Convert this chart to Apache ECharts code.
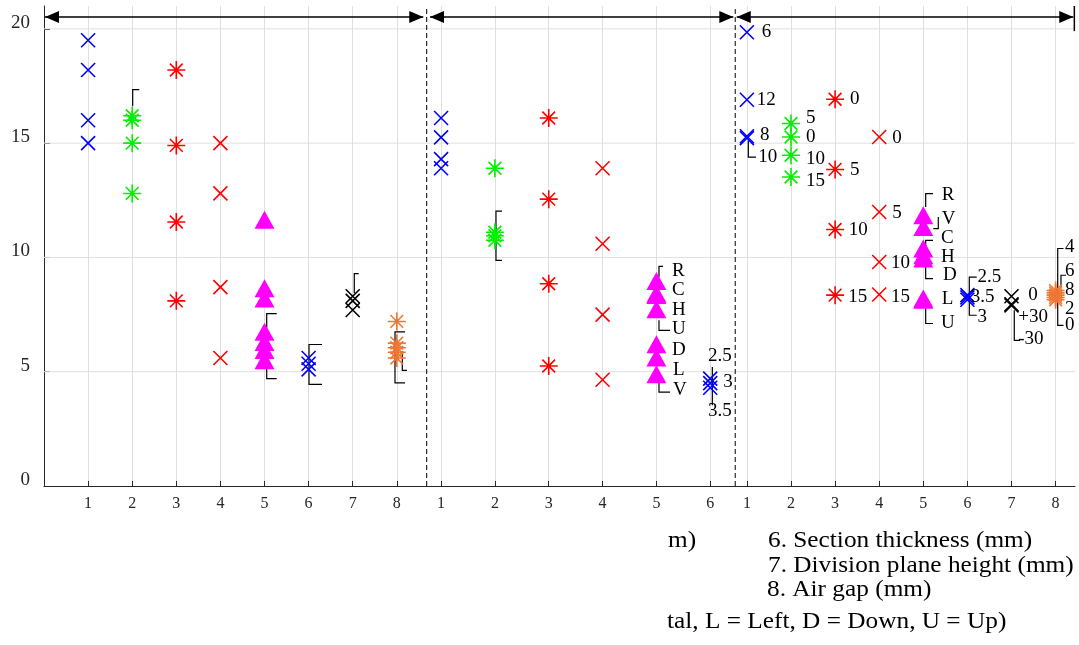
<!DOCTYPE html>
<html>
<head>
<meta charset="utf-8">
<title>Parameter sweep</title>
<script src="https://cdn.jsdelivr.net/npm/echarts@6/dist/echarts.min.js"></script>
<style>
  html, body { margin: 0; padding: 0; background: #fff; }
  #chart { width: 1079px; height: 645px; }
</style>
</head>
<body>
<div id="chart"></div>
<script>
// ---- data ----
const yTicks = [0, 5, 10, 15, 20]
const xTicksLeft = [1, 2, 3, 4, 5, 6, 7, 8]
const xTicksMid = [1, 2, 3, 4, 5, 6]
const xTicksRight = [1, 2, 3, 4, 5, 6, 7, 8]

// one small array per parameter position
const leftValues = [
  [19.5, 18.2, 16.0, 15.0],
  [16.2, 16.0, 15.0, 12.8],
  [18.2, 14.9, 11.55, 8.1],
  [15.0, 12.8, 8.7, 5.6],
  [11.65, 8.65, 8.2, 6.75, 6.3, 5.95, 5.5],
  [5.6, 5.35, 5.1],
  [8.3, 8.1, 7.7],
  [7.2, 6.25, 6.05, 5.85, 5.6],
]
const midValues = [
  [16.1, 15.25, 14.3, 13.9],
  [13.9, 11.1, 10.95, 10.75],
  [16.1, 12.55, 8.85, 5.25],
  [13.9, 10.6, 7.5, 4.65],
  [8.97, 8.42, 8.36, 7.73, 6.2, 5.62, 4.89],
  [4.7, 4.5, 4.3],
]
const rightValues = [
  [19.85, 16.9, 15.3, 15.22],
  [15.86, 15.27, 14.47, 13.52],
  [16.92, 13.85, 11.22, 8.35],
  [15.27, 11.99, 9.8, 8.38],
  [11.84, 11.33, 10.39, 10.1, 9.95, 8.2, 8.15],
  [8.35, 8.25, 8.15],
  [8.3, 7.95, 7.9],
  [8.55, 8.45, 8.35, 8.25, 8.15],
]

// ---- annotations (x, y in axis units, text) ----
const midNotes = [
  [5.29, 9.41, 'R'], [5.29, 8.59, 'C'], [5.29, 7.72, 'H'], [5.29, 6.86, 'U'],
  [5.29, 5.94, 'D'], [5.31, 5.09, 'L'], [5.31, 4.19, 'V'],
  [6.18, 5.70, '2.5', 'center'], [6.24, 4.55, '3'], [6.18, 3.29, '3.5', 'center'],
]
const rightNotes = [
  [1.335, 19.84, '6'], [1.222, 16.90, '12'], [1.297, 15.34, '8'], [1.258, 14.38, '10'],
  [2.34, 16.09, '5'], [2.34, 15.26, '0'], [2.34, 14.32, '10'], [2.34, 13.33, '15'],
  [3.338, 16.92, '0'], [3.338, 13.81, '5'], [3.31, 11.19, '10'], [3.30, 8.27, '15'],
  [4.297, 15.24, '0'], [4.297, 11.96, '5'], [4.267, 9.76, '10'], [4.267, 8.27, '15'],
  [5.417, 12.72, 'R'], [5.417, 11.70, 'V'], [5.40, 10.87, 'C'], [5.40, 10.02, 'H'],
  [5.447, 9.22, 'D'], [5.417, 8.20, 'L'], [5.40, 7.11, 'U'],
  [6.229, 9.14, '2.5'], [6.075, 8.27, '3.5'], [6.229, 7.39, '3'],
  [7.381, 8.34, '0'], [7.154, 7.39, '+30'], [7.154, 6.45, '-30'],
  [8.213, 10.44, '4'], [8.213, 9.42, '6'], [8.213, 8.56, '8'], [8.213, 7.76, '2'], [8.213, 7.03, '0'],
]

// brackets as polylines in axis units
const leftBrackets = [
  [[2.161, 17.34], [2.011, 17.34], [2.011, 16.61]],
  [[5.277, 7.54], [5.05, 7.54], [5.05, 4.70], [5.277, 4.70]],
  [[6.304, 6.19], [6.009, 6.19], [6.009, 4.45], [6.304, 4.45]],
  [[7.136, 9.29], [7.036, 9.29], [7.036, 8.43]],
  [[8.186, 6.74], [7.959, 6.74], [7.959, 4.51], [8.186, 4.51]],
  [[8.125, 5.91], [8.125, 5.06], [8.231, 5.06]],
]
const midBrackets = [
  [[2.132, 12.03], [2.02, 12.03], [2.02, 9.87], [2.132, 9.87]],
  [[5.123, 9.61], [5.048, 9.61], [5.048, 9.14]],
  [[5.048, 7.25], [5.048, 6.81], [5.253, 6.81]],
  [[5.048, 4.55], [5.048, 4.11], [5.253, 4.11]],
  [[6.039, 5.21], [6.039, 3.53]],
]
const rightBrackets = [
  [[1.032, 15.12], [1.032, 14.39], [1.206, 14.39]],
  [[5.22, 12.79], [5.054, 12.79], [5.054, 12.21]],
  [[5.34, 11.77], [5.34, 11.26], [5.227, 11.26]],
  [[5.22, 10.75], [5.054, 10.75], [5.054, 10.46]],
  [[5.054, 9.58], [5.054, 9.07], [5.22, 9.07]],
  [[5.054, 7.77], [5.054, 7.11], [5.22, 7.11]],
  [[6.211, 9.14], [6.043, 9.14], [6.043, 7.47], [6.211, 7.47]],
  [[7.063, 7.69], [7.063, 6.37], [7.193, 6.37]],
  [[8.179, 10.39], [8.048, 10.39], [8.048, 7.03], [8.179, 7.03]],
  [[8.236, 9.22], [8.122, 9.22], [8.122, 8.71]],
]

// ---- styles ----
const serif = '"Liberation Serif", "Times New Roman", serif'
const axisColor = '#262626'
const gridColor = '#dfdfdf'
const cross = 'path://M0,0L10,10M10,0L0,10'
const star = 'path://M5,0L5,10M0,5L10,5M1.46,1.46L8.54,8.54M8.54,1.46L1.46,8.54'
const markerStyle = [
  { symbol: cross, size: 14, color: '#0000ff' },
  { symbol: star, size: 18, color: '#00f000' },
  { symbol: star, size: 18, color: '#ff0000' },
  { symbol: cross, size: 14, color: '#ff0000' },
  { symbol: 'triangle', size: [20, 18], color: '#ff00ff', filled: true },
  { symbol: cross, size: 14, color: '#0000ff' },
  { symbol: cross, size: 14, color: '#000000' },
  { symbol: star, size: 18, color: '#ee7733' },
]

const panels = [
  { left: 44, width: 382, min: 0, max: 8.662, ticks: xTicksLeft, values: leftValues, notes: [], brackets: leftBrackets,
    frame: { arrow: [0.023, 8.60, 20.52], dashes: [], bars: [] } },
  { left: 426, width: 309, min: 0.72, max: 6.46, ticks: xTicksMid, values: midValues, notes: midNotes, brackets: midBrackets,
    frame: { arrow: [0.794, 6.429, 20.52], dashes: [0.733], bars: [] } },
  { left: 735, width: 340, min: 0.73, max: 8.44, ticks: xTicksRight, values: rightValues, notes: rightNotes, brackets: rightBrackets,
    frame: { arrow: [0.769, 8.401, 20.52], dashes: [0.735], bars: [[8.425, 19.9, 21]] } },
]

function arrowHead(tip, dir) {
  return {
    type: 'polygon',
    shape: { points: [[tip[0], tip[1]], [tip[0] - dir * 14, tip[1] - 6], [tip[0] - dir * 14, tip[1] + 6]] },
    style: { fill: '#000' },
  }
}

function frameRender(p) {
  const frame = p.frame
  return function (params, api) {
    const children = []
    const a = api.coord([frame.arrow[0], frame.arrow[2]])
    const b = api.coord([frame.arrow[1], frame.arrow[2]])
    children.push({ type: 'line', shape: { x1: a[0], y1: a[1], x2: b[0], y2: b[1] }, style: { stroke: '#000', lineWidth: 1.5 } })
    children.push(arrowHead(a, -1), arrowHead(b, 1))
    frame.dashes.forEach(x => {
      const s = api.coord([x, 0])
      const e = api.coord([x, 21])
      children.push({ type: 'line', shape: { x1: s[0], y1: s[1], x2: e[0], y2: e[1] }, style: { stroke: '#000', lineWidth: 1, lineDash: [5, 3] } })
    })
    frame.bars.forEach(bar => {
      const s = api.coord([bar[0], bar[1]])
      const e = api.coord([bar[0], bar[2]])
      children.push({ type: 'line', shape: { x1: s[0], y1: s[1], x2: e[0], y2: e[1] }, style: { stroke: '#000', lineWidth: 1.5 } })
    })
    return { type: 'group', children }
  }
}

// horizontal grid lines only at the labelled ticks (no line at the top of the axis)
function hGridRender(p) {
  return function (params, api) {
    const children = yTicks.slice(1).map(t => {
      const s = api.coord([p.min, t])
      const e = api.coord([p.max, t])
      return { type: 'line', shape: { x1: s[0], y1: s[1], x2: e[0], y2: e[1] }, style: { stroke: gridColor, lineWidth: 1 } }
    })
    return { type: 'group', children }
  }
}

const grids = []
const xAxes = []
const yAxes = []
const series = []

panels.forEach((p, gi) => {
  grids.push({ left: p.left, width: p.width, top: 6, height: 480, outerBoundsMode: 'none', containLabel: false })
  xAxes.push({
    type: 'value',
    gridIndex: gi,
    min: p.min,
    max: p.max,
    axisLine: { show: true, onZero: false, lineStyle: { color: axisColor, width: 1 } },
    axisTick: { show: true, inside: true, length: 5, customValues: p.ticks, lineStyle: { color: axisColor } },
    axisLabel: { customValues: p.ticks, margin: 10, fontSize: 16, fontFamily: serif, color: axisColor },
    splitLine: { show: true, lineStyle: { color: gridColor, width: 1 } },
  })
  yAxes.push({
    type: 'value',
    gridIndex: gi,
    min: 0,
    max: 21,
    interval: 5,
    axisLine: { show: gi === 0, lineStyle: { color: axisColor, width: 1 } },
    axisTick: { show: gi === 0, inside: true, length: 6, customValues: yTicks, lineStyle: { color: axisColor } },
    axisLabel: {
      show: gi === 0, customValues: yTicks, margin: 14, fontSize: 19, fontFamily: serif, color: axisColor,
      verticalAlign: 'bottom', lineHeight: 12,
    },
    splitLine: { show: false },
  })

  series.push({
    type: 'custom',
    xAxisIndex: gi,
    yAxisIndex: gi,
    clip: false,
    silent: true,
    z: 1,
    data: [[p.min, 0]],
    renderItem: hGridRender(p),
  })

  // brackets sit underneath the markers
  series.push({
    type: 'custom',
    xAxisIndex: gi,
    yAxisIndex: gi,
    clip: false,
    silent: true,
    z: 2,
    data: p.brackets.map(b => [b[0][0], b[0][1]]),
    renderItem: (params, api) => {
      const pts = p.brackets[params.dataIndex].map(pt => api.coord(pt))
      return { type: 'polyline', shape: { points: pts }, style: { stroke: '#000', fill: null, lineWidth: 1.2 } }
    },
  })

  p.values.forEach((vals, i) => {
    const m = markerStyle[i]
    series.push({
      type: 'scatter',
      xAxisIndex: gi,
      yAxisIndex: gi,
      symbol: m.symbol,
      symbolSize: m.size,
      itemStyle: m.filled
        ? { color: m.color, opacity: 1 }
        : { color: 'transparent', borderColor: m.color, borderWidth: 1.6, opacity: 1 },
      data: vals.map(v => [p.ticks[i], v]),
      z: 3,
      silent: true,
    })
  })

  series.push({
    type: 'custom',
    xAxisIndex: gi,
    yAxisIndex: gi,
    clip: false,
    silent: true,
    z: 4,
    data: [[p.min, 0]],
    renderItem: frameRender(p),
  })

  if (p.notes.length) {
    series.push({
      type: 'custom',
      xAxisIndex: gi,
      yAxisIndex: gi,
      clip: false,
      silent: true,
      z: 5,
      data: p.notes.map(n => [n[0], n[1]]),
      renderItem: (params, api) => {
        const n = p.notes[params.dataIndex]
        const c = api.coord([n[0], n[1]])
        return {
          type: 'text',
          x: c[0],
          y: c[1],
          style: { text: n[2], fill: '#000', font: '19px ' + serif, align: n[3] || 'left', verticalAlign: 'middle' },
        }
      },
    })
  }
})

// caption lines below the axes (cut off on the left, as in the source figure)
const captionFont = '23px ' + serif
function caption(text, x, y) {
  return { type: 'text', x, y, scaleX: 1.1, style: { text, font: captionFont, fill: '#000', verticalAlign: 'middle' } }
}

const chart = echarts.init(document.getElementById('chart'))
chart.setOption({
  animation: false,
  backgroundColor: '#fff',
  grid: grids,
  xAxis: xAxes,
  yAxis: yAxes,
  series,
  graphic: [
    caption('m)', 668, 541),
    caption('6. Section thickness (mm)', 768, 541),
    caption('7. Division plane height (mm)', 768, 566),
    caption('8. Air gap (mm)', 767, 590),
    caption('tal, L = Left, D = Down, U = Up)', 667, 622),
  ],
})
</script>
</body>
</html>
